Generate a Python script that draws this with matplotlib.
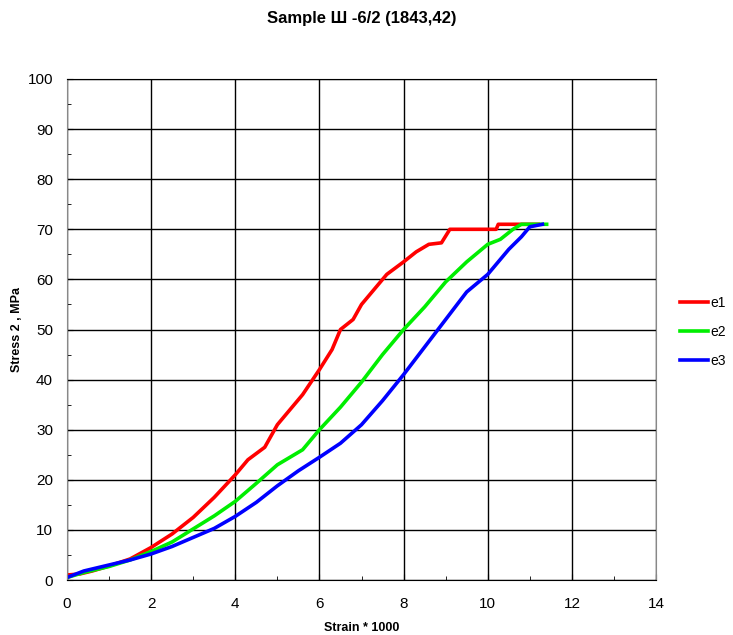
import matplotlib.pyplot as plt
from matplotlib.ticker import MultipleLocator

# datos
e1_x = [0, 0.3, 0.6, 1.0, 1.5, 2.0, 2.5, 3.0, 3.5, 4.0, 4.3, 4.7, 5.0, 5.3, 5.6, 6.0, 6.3, 6.5, 6.8, 7.0, 7.3, 7.6, 8.0, 8.3, 8.6, 8.9, 9.1, 9.5, 10.2, 10.25, 10.6, 11.2]
e1_y = [1, 1.2, 1.8, 2.8, 4.2, 6.5, 9.2, 12.5, 16.5, 21, 24, 26.5, 31, 34, 37, 42, 46, 50, 52, 55, 58, 61, 63.5, 65.5, 67, 67.3, 70, 70, 70, 71, 71, 71]

e2_x = [0, 0.4, 1.0, 1.5, 2.0, 2.5, 3.0, 3.5, 4.0, 4.5, 5.0, 5.3, 5.6, 6.0, 6.5, 7.0, 7.5, 8.0, 8.5, 9.0, 9.5, 10.0, 10.3, 10.6, 10.8, 11.4]
e2_y = [0.5, 1.5, 2.7, 4.0, 5.7, 7.6, 10.2, 12.8, 15.7, 19.3, 23, 24.5, 26, 30, 34.5, 39.5, 45, 50, 54.5, 59.5, 63.5, 67, 68, 70, 71, 71]

e3_x = [0, 0.4, 1.0, 1.5, 2.0, 2.5, 3.0, 3.5, 4.0, 4.5, 5.0, 5.5, 6.0, 6.5, 7.0, 7.5, 8.0, 8.5, 9.0, 9.5, 10.0, 10.5, 10.8, 11.0, 11.3]
e3_y = [0.5, 1.8, 3.0, 4.0, 5.2, 6.7, 8.5, 10.3, 12.7, 15.5, 18.8, 21.8, 24.5, 27.3, 31, 35.8, 41, 46.5, 52, 57.5, 61, 66, 68.5, 70.5, 71]

plt.rcParams['font.family'] = ['Liberation Sans', 'DejaVu Sans']

fig = plt.figure(figsize=(7.33, 6.35), dpi=100)
ax = fig.add_axes([0.0914, 0.0866, 0.8036, 0.789])

ax.plot(e1_x, e1_y, color='#ff0000', lw=2.6, label='e1')
ax.plot(e2_x, e2_y, color='#00ee00', lw=2.6, label='e2')
ax.plot(e3_x, e3_y, color='#0000ff', lw=2.6, label='e3')

ax.set_xlim(0, 14)
ax.set_ylim(0, 100)
ax.xaxis.set_major_locator(MultipleLocator(2))
ax.xaxis.set_minor_locator(MultipleLocator(1))
ax.yaxis.set_major_locator(MultipleLocator(10))
ax.yaxis.set_minor_locator(MultipleLocator(5))
ax.grid(True, which='major', color='black', lw=1)
ax.tick_params(which='both', direction='in', labelsize=11)
ax.tick_params(which='major', length=4)
ax.tick_params(which='minor', length=3)
ax.tick_params(axis='x', pad=12)
ax.tick_params(axis='y', pad=10)
for s in ax.spines.values():
    s.set_color('black')
ax.spines['right'].set_color('#888888')
ax.spines['left'].set_color('#888888')

ax.set_title('Sample Ш -6/2 (1843,42)', fontsize=12, fontweight='bold', pad=40)
ax.set_xlabel('Strain * 1000', fontsize=9, fontweight='bold', va='center')
ax.set_ylabel('Stress 2 , MPa', fontsize=9, fontweight='bold', va='center')
ax.xaxis.set_label_coords(0.5, -0.096)
ax.yaxis.set_label_coords(-0.085, 0.5)

ax.legend(loc='center left', bbox_to_anchor=(1.02, 0.495), frameon=False,
          fontsize=10, handlelength=2.0, handletextpad=0.2, labelspacing=1.1)

fig.savefig('out.png', dpi=100)
